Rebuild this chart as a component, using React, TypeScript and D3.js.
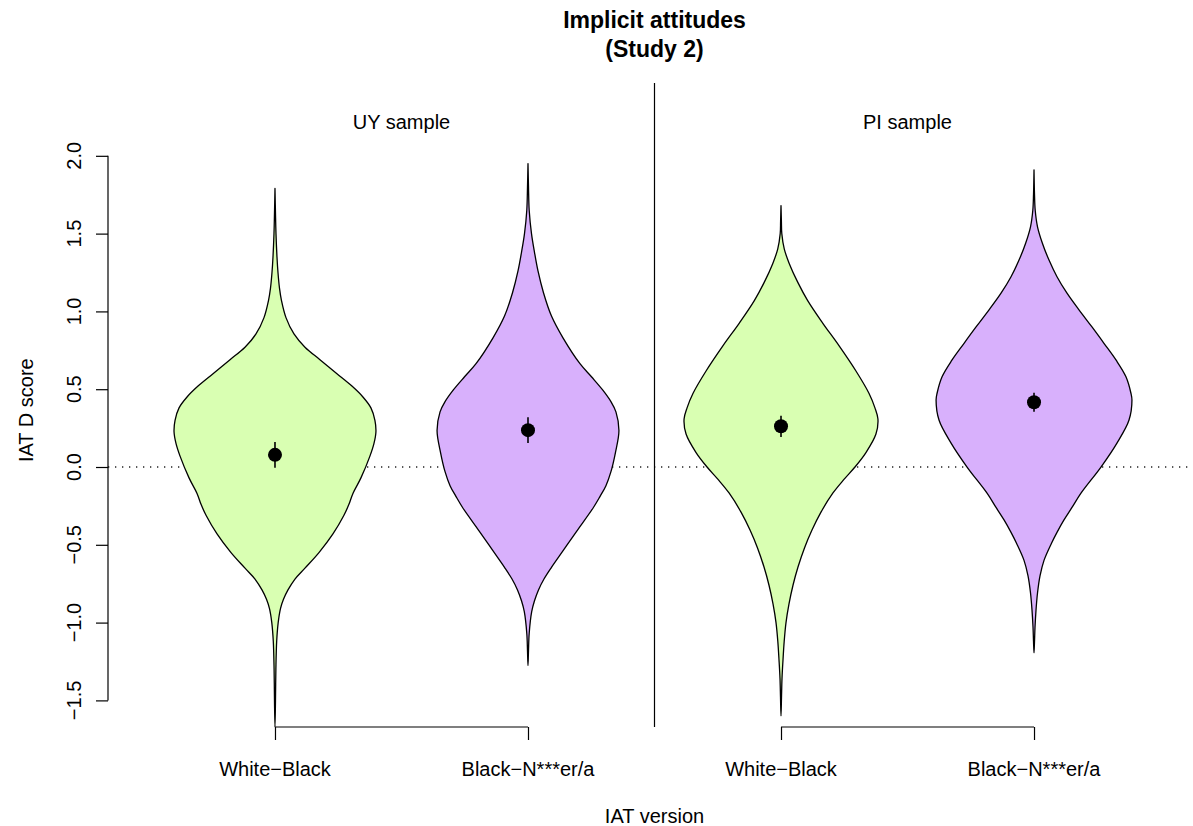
import { useEffect, useRef } from "react";
import * as d3 from "d3";

const PANELS = ["UY sample", "PI sample"];
const VERSIONS = ["White−Black", "Black−N***er/a", "White−Black", "Black−N***er/a"];
const GROUP_POS = [1, 2, 3, 4];
const FILLS = ["#d9ffb2", "#d8b0fc", "#d9ffb2", "#d8b0fc"];
const Y_TICKS = [-1.5, -1, -0.5, 0, 0.5, 1, 1.5, 2];

// violin outlines: [IAT D score, relative density]
const UY_WB = [
  [1.79, 0], [1.6, 0.006], [1.5, 0.01], [1.35, 0.02], [1.25, 0.03], [1.15, 0.045], [1.07, 0.065],
  [0.96, 0.11], [0.855, 0.19], [0.77, 0.3], [0.69, 0.45], [0.6, 0.62], [0.52, 0.77], [0.45, 0.88],
  [0.38, 0.96], [0.3, 1.0], [0.225, 1.01], [0.15, 0.99], [0.07, 0.95], [-0.07, 0.86], [-0.17, 0.78],
  [-0.24, 0.74], [-0.31, 0.69], [-0.43, 0.58], [-0.55, 0.44], [-0.65, 0.3], [-0.72, 0.2],
  [-0.79, 0.13], [-0.85, 0.085], [-0.91, 0.055], [-1.0, 0.032], [-1.12, 0.017], [-1.3, 0.009],
  [-1.5, 0.005], [-1.67, 0],
];
const UY_BN = [
  [1.95, 0], [1.8, 0.005], [1.65, 0.012], [1.5, 0.035], [1.38, 0.065], [1.26, 0.1], [1.12, 0.155],
  [0.97, 0.235], [0.83, 0.35], [0.664, 0.52], [0.58, 0.635], [0.497, 0.745], [0.42, 0.83], [0.354, 0.88],
  [0.235, 0.91], [0.093, 0.875], [-0.03, 0.83], [-0.12, 0.78], [-0.19, 0.72], [-0.265, 0.65],
  [-0.41, 0.49], [-0.53, 0.36], [-0.645, 0.235], [-0.72, 0.16], [-0.79, 0.105], [-0.86, 0.065],
  [-0.93, 0.037], [-1.07, 0.012], [-1.18, 0.005], [-1.276, 0],
];
const PI_WB = [
  [1.68, 0], [1.58, 0.004], [1.5, 0.008], [1.4, 0.033], [1.307, 0.083], [1.188, 0.167],
  [1.069, 0.267], [0.925, 0.417], [0.78, 0.58], [0.617, 0.75], [0.474, 0.88], [0.38, 0.94],
  [0.308, 0.97], [0.212, 0.95], [0.093, 0.85], [0, 0.74], [-0.08, 0.63], [-0.167, 0.52],
  [-0.29, 0.4], [-0.405, 0.31], [-0.52, 0.235], [-0.643, 0.17], [-0.76, 0.12], [-0.88, 0.08],
  [-1.0, 0.05], [-1.12, 0.032], [-1.24, 0.02], [-1.36, 0.01], [-1.48, 0.005], [-1.6, 0],
];
const PI_BN = [
  [1.91, 0], [1.75, 0.005], [1.65, 0.012], [1.544, 0.035], [1.44, 0.083], [1.33, 0.15], [1.223, 0.23],
  [1.117, 0.33], [1.01, 0.45], [0.9, 0.58], [0.795, 0.7], [0.688, 0.82], [0.58, 0.92], [0.474, 0.97],
  [0.43, 0.98], [0.3, 0.95], [0.154, 0.83], [0, 0.67], [-0.168, 0.47], [-0.26, 0.38], [-0.34, 0.3],
  [-0.42, 0.23], [-0.49, 0.175], [-0.6, 0.1], [-0.7, 0.06], [-0.81, 0.035], [-0.92, 0.02],
  [-1.03, 0.01], [-1.12, 0.005], [-1.195, 0],
];
const VIOLINS = [UY_WB, UY_BN, PI_WB, PI_BN];

const MEANS = [0.078, 0.237, 0.262, 0.416];
const CI_LO = [-0.005, 0.155, 0.193, 0.355];
const CI_HI = [0.16, 0.32, 0.33, 0.477];

const FONT = "'Liberation Sans', Arial, Helvetica, sans-serif";
const fmt = (d: number) => d3.format(".1f")(d).replace("-", "−");

export default function App() {
  const svgRef = useRef<SVGSVGElement | null>(null);

  useEffect(() => {
    if (!svgRef.current) return;
    const W = 1193;
    const H = 826;

    const svg = d3.select(svgRef.current);
    svg.selectAll("*").remove();
    svg.attr("width", W).attr("height", H);

    const x = d3.scaleLinear().domain([0.34, 4.66]).range([108, 1201]);
    const y = d3.scaleLinear().domain([-1.671, 2.468]).range([727, 83]);
    const wScale = d3.scaleLinear().domain([0, 1]).range([0, 0.395]);

    // zero reference line
    svg.append("line")
      .attr("x1", x(0.34)).attr("x2", x(4.66))
      .attr("y1", y(0)).attr("y2", y(0))
      .attr("stroke", "#222").attr("stroke-width", 1.3)
      .attr("stroke-dasharray", "1.3,5.7");

    // violins
    const outline = d3.line<[number, number]>()
      .x((d) => d[0]).y((d) => d[1])
      .curve(d3.curveCatmullRom.alpha(0.5));

    VIOLINS.forEach((pts, i) => {
      const pos = GROUP_POS[i];
      const right = pts.map((p) => [x(pos + wScale(p[1])), y(p[0])] as [number, number]);
      const left = pts.slice().reverse().map((p) => [x(pos - wScale(p[1])), y(p[0])] as [number, number]);
      svg.append("path")
        .attr("d", outline(right.concat(left.slice(1))) + "Z")
        .attr("fill", FILLS[i])
        .attr("stroke", "#000")
        .attr("stroke-width", 1.3)
        .attr("stroke-linejoin", "round");
    });

    // means with intervals
    GROUP_POS.forEach((pos, i) => {
      svg.append("line")
        .attr("x1", x(pos)).attr("x2", x(pos))
        .attr("y1", y(CI_LO[i])).attr("y2", y(CI_HI[i]))
        .attr("stroke", "#000").attr("stroke-width", 1.6);
      svg.append("circle")
        .attr("cx", x(pos)).attr("cy", y(MEANS[i])).attr("r", 7)
        .attr("fill", "#000");
    });

    // panel separator
    svg.append("line")
      .attr("x1", x(2.5)).attr("x2", x(2.5))
      .attr("y1", y(2.468)).attr("y2", y(-1.671))
      .attr("stroke", "#000").attr("stroke-width", 1.2);

    // y axis
    const yAx = svg.append("g").attr("transform", `translate(${x(0.34)},0)`)
      .call(d3.axisLeft(y).tickValues(Y_TICKS).tickSize(12).tickSizeOuter(0).tickFormat(() => ""));
    yAx.select(".domain").attr("d", `M0,${y(-1.5)}V${y(2)}`)
      .attr("stroke", "#000").attr("stroke-width", 1.2);
    yAx.selectAll("line").attr("stroke", "#000").attr("stroke-width", 1.2);
    Y_TICKS.forEach((t) => {
      svg.append("text")
        .attr("transform", `translate(81,${y(t)}) rotate(-90)`)
        .attr("text-anchor", "middle")
        .attr("font-family", FONT).attr("font-size", 20).attr("fill", "#000")
        .text(fmt(t));
    });

    // x axes, one per panel
    [[1, 2], [3, 4]].forEach((pair) => {
      const g = svg.append("g").attr("transform", `translate(0,${y(-1.671)})`)
        .call(d3.axisBottom(x).tickValues(pair).tickSize(13).tickSizeOuter(0).tickFormat(() => ""));
      g.select(".domain").attr("d", `M${x(pair[0])},0H${x(pair[1])}`)
        .attr("stroke", "#000").attr("stroke-width", 1.2);
      g.selectAll("line").attr("stroke", "#000").attr("stroke-width", 1.2);
    });
    GROUP_POS.forEach((pos, i) => {
      svg.append("text")
        .attr("x", x(pos)).attr("y", 776)
        .attr("text-anchor", "middle")
        .attr("font-family", FONT).attr("font-size", 20).attr("fill", "#000")
        .text(VERSIONS[i]);
    });

    // panel labels
    PANELS.forEach((p, i) => {
      svg.append("text")
        .attr("x", x(1.5 + 2 * i)).attr("y", 129)
        .attr("text-anchor", "middle")
        .attr("font-family", FONT).attr("font-size", 20).attr("fill", "#000")
        .text(p);
    });

    // axis titles
    svg.append("text")
      .attr("x", x(2.5)).attr("y", 823)
      .attr("text-anchor", "middle")
      .attr("font-family", FONT).attr("font-size", 20).attr("fill", "#000")
      .text("IAT version");
    svg.append("text")
      .attr("transform", `translate(33,${y(0.365)}) rotate(-90)`)
      .attr("text-anchor", "middle")
      .attr("font-family", FONT).attr("font-size", 20).attr("fill", "#000")
      .text("IAT D score");

    // title
    svg.append("text")
      .attr("x", x(2.5)).attr("y", 28)
      .attr("text-anchor", "middle")
      .attr("font-family", FONT).attr("font-size", 23).attr("font-weight", 700).attr("fill", "#000")
      .text("Implicit attitudes");
    svg.append("text")
      .attr("x", x(2.5)).attr("y", 57)
      .attr("text-anchor", "middle")
      .attr("font-family", FONT).attr("font-size", 23).attr("font-weight", 700).attr("fill", "#000")
      .text("(Study 2)");
  }, []);

  return (
    <div style={{ position: "absolute", left: 0, top: 0, width: 1193, height: 826, background: "#fff" }}>
      <svg ref={svgRef} style={{ display: "block" }} />
    </div>
  );
}
